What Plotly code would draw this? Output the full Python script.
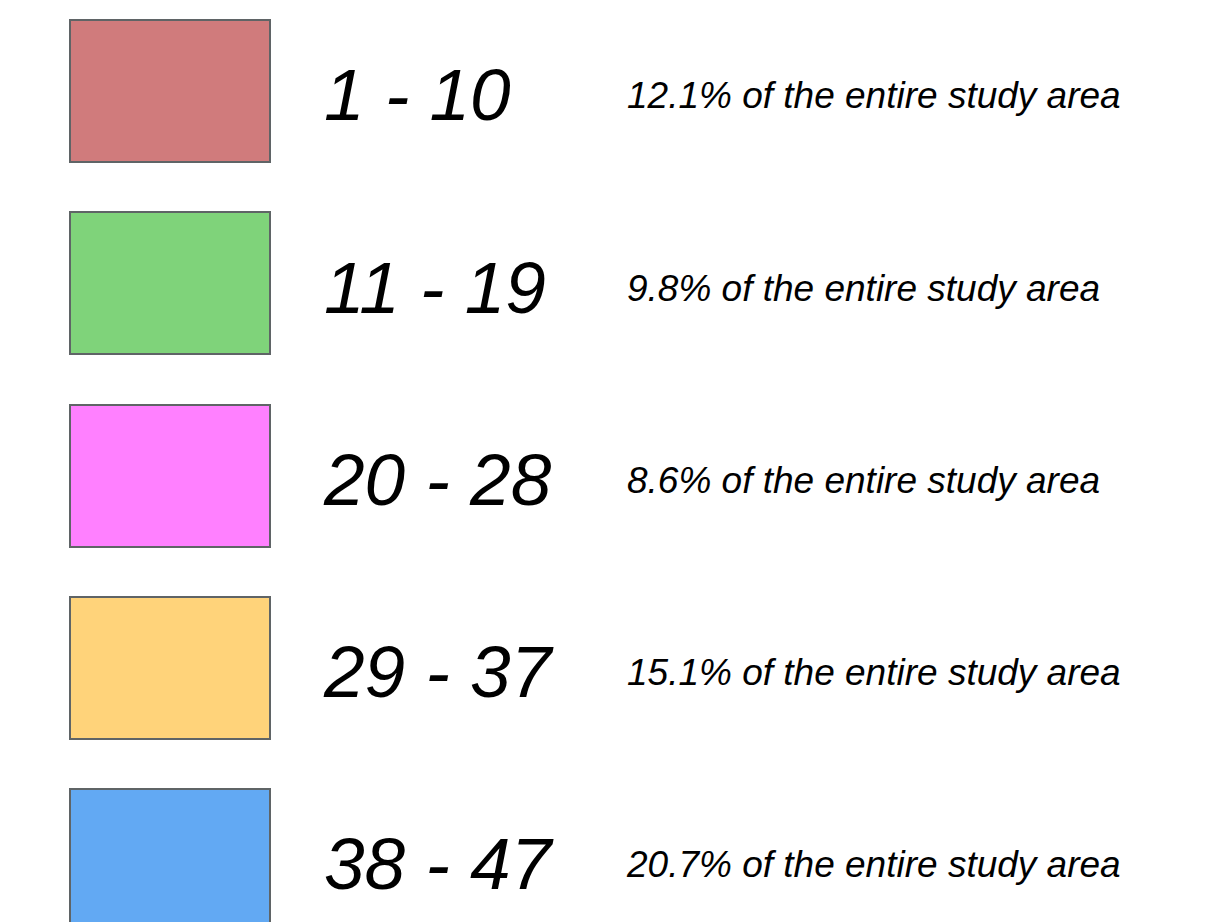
import plotly.graph_objects as go

range_low = [1, 11, 20, 29, 38]
range_high = [10, 19, 28, 37, 47]
area_pct = [12.1, 9.8, 8.6, 15.1, 20.7]
colors = ["#D07B7C", "#7FD37A", "#FF80FF", "#FFD37A", "#62A9F3"]

W, H = 1212, 922
off = 8  # page body margin
top0, pitch, box_h = 91, 192.25, 142
box_x0, box_w = 70, 200
label_x, pct_x = 324, 627
label_dy, pct_dy = 11, 8

rows = list(range(len(range_low)))
yc = [top0 + i * pitch for i in rows]
range_text = [f"{a} - {b}" for a, b in zip(range_low, range_high)]
pct_text = [f"{p}% of the entire study area" for p in area_pct]

fig = go.Figure()
fig.add_trace(go.Bar(
    orientation="h", y=yc, x=[box_w] * len(rows), base=box_x0, width=box_h,
    marker=dict(color=colors, line=dict(color="#5F6466", width=2)),
    hoverinfo="skip", showlegend=False,
))
fig.add_trace(go.Scatter(
    x=[label_x] * len(rows), y=[y + label_dy for y in yc], mode="text",
    text=range_text, textposition="middle right",
    textfont=dict(family="Liberation Sans", size=73, color="#000000", style="italic"),
    hoverinfo="skip", showlegend=False,
))
fig.add_trace(go.Scatter(
    x=[pct_x] * len(rows), y=[y + pct_dy for y in yc], mode="text",
    text=pct_text, textposition="middle right",
    textfont=dict(family="Liberation Sans", size=37, color="#000000", style="italic"),
    hoverinfo="skip", showlegend=False,
))
fig.update_layout(
    width=W, height=H, margin=dict(l=0, r=0, t=0, b=0),
    paper_bgcolor="white", plot_bgcolor="white",
    xaxis=dict(range=[off, W + off], visible=False, fixedrange=True),
    yaxis=dict(range=[H + off, off], visible=False, fixedrange=True),
    bargap=0,
)
fig.write_html("out.html")
